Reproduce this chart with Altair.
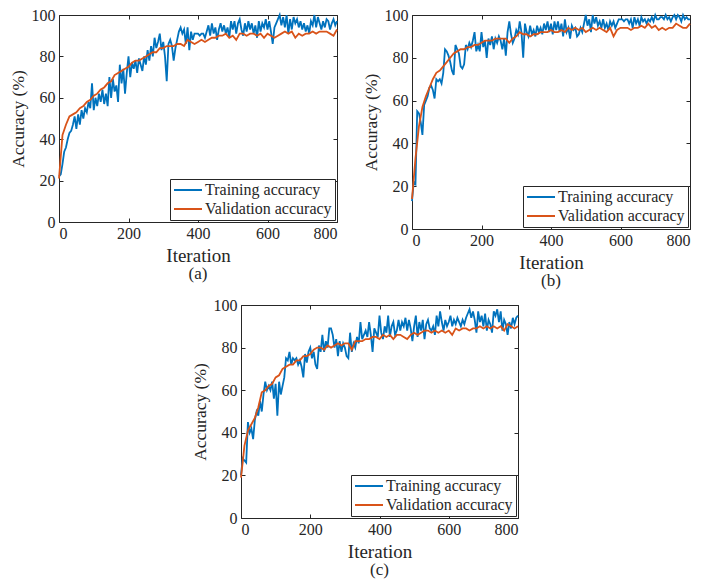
import altair as alt
import numpy as np
import pandas as pd

SERIES = ["Training accuracy", "Validation accuracy"]
COLORS = ["#0072BD", "#D95319"]

# ---- panel (a) ----
train_a = [22, 23, 28, 34, 36, 40, 43, 44, 47, 51, 45, 52, 47, 54, 50, 55, 53, 58, 55, 67,
           54, 60, 56, 62, 58, 64, 57, 62, 56, 70, 60, 69, 63, 66, 58, 76, 67, 74, 62, 72,
           80, 70, 77, 74, 78, 72, 79, 76, 73, 80, 76, 83, 78, 85, 80, 89, 84, 87, 91, 83,
           87, 80, 68, 86, 88, 85, 78, 84, 88, 92, 94, 91, 93, 86, 94, 83, 92, 88, 91, 91,
           91, 90, 91, 91, 89, 92, 95, 90, 96, 91, 94, 88, 93, 96, 92, 95, 91, 94, 89, 97,
           93, 97, 91, 96, 98, 93, 90, 96, 92, 97, 93, 96, 91, 95, 89, 97, 92, 96, 94, 98,
           93, 97, 92, 86, 94, 96, 98, 100, 95, 99, 94, 100, 91, 98, 93, 99, 96, 98, 94, 97,
           93, 96, 92, 95, 91, 97, 95, 100, 94, 99, 96, 93, 97, 94, 98, 97, 93, 96, 98, 95,
           97]
val_a = [21, 42, 47, 51, 52, 53, 55, 56, 58, 59, 61, 62, 64, 65, 67, 68, 71, 72, 73, 74,
         75, 77, 78, 78, 79, 80, 81, 82, 82, 84, 84, 85, 85, 85, 86, 86, 85, 88, 87, 86,
         87, 88, 87, 88, 89, 89, 90, 90, 91, 89, 90, 88, 91, 91, 90, 91, 91, 90, 91, 89,
         91, 90, 89, 90, 91, 92, 91, 92, 89, 91, 90, 91, 91, 92, 91, 92, 92, 92, 91, 90,
         93]

# ---- panel (b) ----
train_b = [13, 22, 21, 55, 54, 50, 44, 58, 60, 62, 66, 67, 65, 61, 70, 69, 70, 68, 73, 84,
           83, 81, 78, 74, 72, 86, 84, 82, 76, 75, 77, 86, 84, 87, 85, 88, 92, 83, 86, 83,
           92, 85, 88, 80, 89, 86, 90, 84, 89, 87, 90, 88, 84, 89, 81, 92, 97, 91, 87, 89,
           93, 91, 97, 92, 80, 96, 92, 90, 95, 91, 93, 90, 95, 92, 94, 91, 96, 93, 97, 92,
           96, 91, 97, 93, 97, 92, 96, 90, 98, 92, 94, 89, 95, 93, 94, 90, 91, 94, 92, 96,
           100, 95, 98, 92, 100, 96, 99, 95, 97, 94, 98, 94, 96, 93, 97, 95, 97, 94, 96, 98,
           98, 98, 97, 98, 98, 96, 98, 94, 99, 96, 98, 95, 99, 97, 98, 96, 98, 97, 99, 97,
           100, 98, 98, 99, 99, 98, 100, 98, 99, 97, 99, 100, 98, 100, 99, 97, 100, 98, 99, 98,
           98]
val_b = [14, 33, 48, 57, 62, 66, 70, 73, 74, 76, 78, 80, 82, 83, 84, 84, 85, 85, 86, 86,
         87, 88, 88, 88, 89, 89, 89, 89, 87, 89, 90, 92, 91, 91, 90, 91, 91, 92, 92, 92,
         93, 92, 92, 93, 92, 94, 93, 94, 93, 94, 92, 93, 94, 93, 94, 93, 92, 94, 90, 93,
         94, 94, 94, 93, 94, 94, 95, 94, 96, 94, 95, 93, 94, 93, 94, 94, 96, 95, 94, 94,
         96]

# ---- panel (c) ----
train_c = [20, 28, 27, 26, 45, 40, 42, 37, 46, 50, 48, 55, 50, 58, 64, 60, 62, 60, 64, 56,
           63, 48, 64, 58, 62, 66, 75, 74, 78, 72, 75, 74, 75, 72, 74, 71, 66, 77, 73, 78,
           80, 75, 78, 72, 70, 81, 78, 86, 78, 83, 80, 89, 89, 86, 80, 84, 76, 83, 78, 82,
           80, 76, 75, 87, 78, 82, 80, 85, 82, 92, 84, 86, 88, 85, 92, 86, 78, 89, 87, 85,
           95, 87, 84, 90, 87, 95, 85, 90, 92, 86, 88, 93, 88, 92, 90, 94, 88, 93, 89, 83,
           90, 95, 85, 92, 88, 93, 84, 91, 93, 89, 88, 90, 86, 95, 90, 97, 92, 88, 93, 90,
           92, 95, 90, 93, 91, 94, 92, 90, 93, 91, 94, 96, 98, 94, 97, 93, 87, 97, 92, 95,
           90, 96, 88, 93, 91, 87, 97, 95, 98, 92, 97, 88, 93, 91, 86, 92, 89, 94, 91, 94,
           95]
val_c = [19, 34, 41, 44, 47, 52, 59, 60, 62, 63, 66, 67, 70, 71, 72, 72, 74, 74, 76, 76,
         77, 79, 80, 80, 79, 81, 80, 81, 82, 81, 82, 82, 79, 83, 83, 83, 84, 84, 85, 85,
         84, 86, 85, 86, 84, 86, 86, 85, 84, 86, 87, 86, 87, 88, 88, 87, 88, 87, 88, 87,
         88, 86, 89, 88, 89, 89, 88, 89, 89, 90, 89, 90, 89, 90, 89, 90, 88, 91, 90, 89,
         90]

FONT = "Liberation Serif"
INK = "#262626"


def frame(train, val):
    t = pd.DataFrame({"iter": np.linspace(0, 800, len(train)), "acc": train, "series": SERIES[0]})
    v = pd.DataFrame({"iter": np.linspace(0, 800, len(val)), "acc": val, "series": SERIES[1]})
    return pd.concat([t, v], ignore_index=True)


def panel(train, val, tag, w, h):
    df = frame(train, val)
    xs = alt.Scale(domain=[0, 800], nice=False)
    ys = alt.Scale(domain=[0, 100], nice=False)
    common = dict(domain=False, grid=False, tickSize=4, offset=-4, tickColor=INK,
                  labelFont=FONT, labelFontSize=16, labelColor=INK,
                  titleFont=FONT, titleFontWeight="normal", titleColor=INK)
    xaxis = alt.Axis(orient="bottom", values=[0, 200, 400, 600, 800], labelPadding=3,
                     title="Iteration", titlePadding=5, titleFontSize=19, **common)
    yaxis = alt.Axis(orient="left", values=[0, 20, 40, 60, 80, 100], labelPadding=4,
                     title="Accuracy (%)", titlePadding=4, titleFontSize=17.5, **common)
    lines = alt.Chart(df).mark_line(strokeWidth=1.8).encode(
        x=alt.X("iter:Q", scale=xs, axis=xaxis),
        y=alt.Y("acc:Q", scale=ys, axis=yaxis),
        color=alt.Color("series:N",
                        scale=alt.Scale(domain=SERIES, range=COLORS),
                        legend=alt.Legend(orient="bottom-right", title=None, offset=2,
                                          strokeColor=INK, fillColor="white", padding=3,
                                          symbolType="M-1,0H3", symbolSize=196,
                                          symbolStrokeWidth=2, labelFont=FONT,
                                          labelFontSize=16, labelColor=INK,
                                          rowPadding=3, labelOffset=16)),
        order=alt.Order("iter:Q"),
    )
    ghost_common = dict(domain=False, grid=False, tickSize=4, offset=-4, tickColor=INK,
                        labels=False, title=None)
    ghost = alt.Chart(df).mark_line(opacity=0).encode(
        x=alt.X("iter:Q", scale=xs,
                axis=alt.Axis(orient="top", values=[0, 200, 400, 600, 800], **ghost_common)),
        y=alt.Y("acc:Q", scale=ys,
                axis=alt.Axis(orient="right", values=[0, 20, 40, 60, 80, 100], **ghost_common)),
        detail="series:N",
    )
    return alt.layer(lines, ghost).resolve_axis(x="independent", y="independent").properties(
        width=w, height=h,
        title=alt.TitleParams(tag, orient="bottom", anchor="middle", frame="group",
                              font=FONT, fontSize=17, fontWeight="normal", color=INK,
                              offset=1),
    )


pa = panel(train_a, val_a, "(a)", 278, 207)
pb = panel(train_b, val_b, "(b)", 278, 214)
pc = panel(train_c, val_c, "(c)", 277, 213)

spacer = alt.Chart(pd.DataFrame({"v": [0]})).mark_rect(opacity=0).encode(
    x=alt.value(0), x2=alt.value(1), y=alt.value(0), y2=alt.value(1)
).properties(width=131, height=1, view=alt.ViewConfig(strokeOpacity=0))

top = alt.hconcat(pa, pb, spacing=19).resolve_scale(color="independent").resolve_legend(
    color="independent")
bottom = alt.hconcat(spacer, pc, spacing=0).resolve_scale(color="independent").resolve_legend(
    color="independent")

chart = alt.vconcat(
    top,
    bottom,
    spacing=6,
).resolve_scale(color="independent").resolve_legend(color="independent").configure_view(
    stroke=INK, strokeWidth=1
).properties(
    padding={"left": 0, "right": 0, "top": -2, "bottom": 0}
)

chart.save("out.html", embed_options={"renderer": "svg", "actions": False})
